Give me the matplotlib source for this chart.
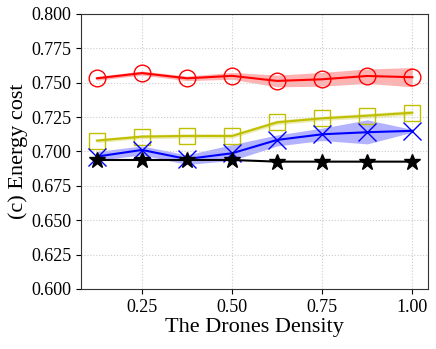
import numpy as np
import matplotlib.pyplot as plt

plt.rcParams['font.family'] = ['Liberation Serif', 'DejaVu Serif']
plt.rcParams['mathtext.fontset'] = 'stix'

density = [0.125, 0.25, 0.375, 0.5, 0.625, 0.75, 0.875, 1.0]

red_mean = [0.7532, 0.7570, 0.7532, 0.7550, 0.7513, 0.7525, 0.7549, 0.7540]
red_low = [0.7518, 0.7555, 0.7515, 0.7525, 0.7470, 0.7475, 0.7495, 0.7470]
red_high = [0.7546, 0.7585, 0.7548, 0.7575, 0.7555, 0.7575, 0.7600, 0.7610]

yel_mean = [0.7079, 0.7108, 0.7113, 0.7113, 0.7212, 0.7241, 0.7260, 0.7282]
yel_low = [0.7065, 0.7093, 0.7098, 0.7098, 0.7195, 0.7225, 0.7243, 0.7265]
yel_high = [0.7093, 0.7123, 0.7128, 0.7128, 0.7229, 0.7257, 0.7277, 0.7299]

blu_mean = [0.6963, 0.7011, 0.6945, 0.6987, 0.7084, 0.7125, 0.7140, 0.7150]
blu_low = [0.6935, 0.6975, 0.6905, 0.6935, 0.7040, 0.7080, 0.7055, 0.7140]
blu_high = [0.7000, 0.7040, 0.6975, 0.7050, 0.7120, 0.7170, 0.7230, 0.7160]

blk_mean = [0.6938, 0.6938, 0.6938, 0.6938, 0.6926, 0.6926, 0.6926, 0.6926]

fig = plt.figure(figsize=(4.36, 3.49), dpi=100)
ax = fig.add_axes([0.186, 0.172, 0.796, 0.788])

ax.fill_between(density, red_low, red_high, color='red', alpha=0.3, lw=0)
ax.plot(density, red_mean, color='red', lw=1.5, marker='o', ms=12, mfc='none', mec='red', mew=1.0)

ax.fill_between(density, yel_low, yel_high, color='y', alpha=0.3, lw=0)
ax.plot(density, yel_mean, color='y', lw=1.5, marker='s', ms=12, mfc='none', mec='y', mew=1.0)

ax.fill_between(density, blu_low, blu_high, color='blue', alpha=0.3, lw=0)
ax.plot(density, blu_mean, color='blue', lw=1.5, marker='x', ms=13, mec='blue', mew=1.0)

ax.plot(density, blk_mean, color='black', lw=1.5, marker='*', ms=12, mfc='black', mec='black')

ax.set_ylim(0.6, 0.8)
ax.set_xticks([0.25, 0.5, 0.75, 1.0])
ax.set_yticks(np.arange(0.6, 0.8001, 0.025))
ax.yaxis.set_major_formatter(plt.FormatStrFormatter('%.3f'))
ax.xaxis.set_major_formatter(plt.FormatStrFormatter('%.2f'))
ax.tick_params(labelsize=13)
for s in ax.spines.values():
    s.set_color('#333333')
ax.grid(True, ls=':', color='#cccccc', lw=0.8)
ax.set_xlabel('The Drones Density', fontsize=16, labelpad=2)
ax.set_ylabel('(c) Energy cost', fontsize=16, labelpad=2)

fig.savefig('out.png', dpi=100)
